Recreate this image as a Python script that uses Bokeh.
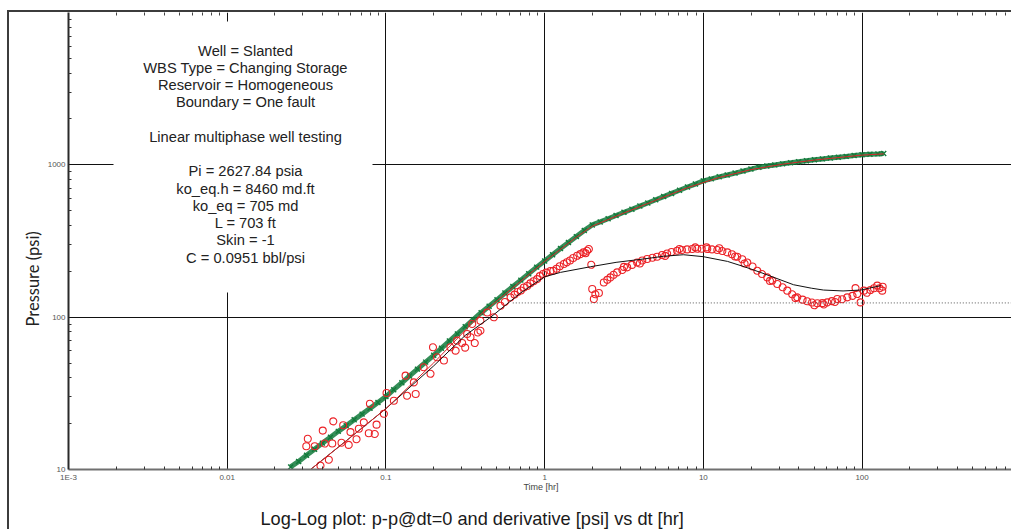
import math
from bokeh.plotting import figure
from bokeh.models import FixedTicker, LogAxis, BoxAnnotation, Label, Title
from bokeh.embed import file_html
from bokeh.resources import INLINE

# ---------------- data ----------------
# pressure change data (green crosses)
PRESS_T = [0.0251, 0.0282, 0.0316, 0.0355, 0.0398, 0.0447, 0.0501, 0.0562, 0.0631, 0.0708,
           0.0794, 0.0891, 0.100, 0.112, 0.126, 0.141, 0.158, 0.178, 0.200, 0.224,
           0.251, 0.282, 0.316, 0.355, 0.398, 0.447, 0.501, 0.562, 0.631, 0.708,
           0.794, 0.891, 1.00, 1.122, 1.259, 1.413, 1.585, 1.778, 1.995, 2.239,
           2.512, 2.818, 3.162, 3.548, 3.981, 4.467, 5.012, 5.623, 6.310, 7.079,
           7.943, 8.913, 10.0, 11.22, 12.59, 14.13, 15.85, 17.78, 19.95, 22.39,
           25.12, 28.18, 31.62, 35.48, 39.81, 44.67, 50.12, 56.23, 63.10, 70.79,
           79.43, 89.13, 100.0, 112.2, 125.9, 137.0]
PRESS_P = [10.4, 11.3, 12.4, 13.6, 14.9, 16.3, 17.8, 19.4, 21.2, 23.1,
           25.2, 27.5, 30.1, 33.4, 37.1, 41.1, 45.6, 50.7, 56.2, 62.6,
           69.7, 77.6, 86.5, 96.2, 107, 118, 130, 144, 159, 175,
           193, 213, 234, 257, 282, 309, 338, 371, 403, 422,
           443, 465, 488, 511, 536, 562, 590, 619, 649, 681,
           715, 748, 785, 809, 834, 857, 883, 910, 938, 965,
           983, 999, 1015, 1031, 1048, 1065, 1080, 1094, 1108, 1122,
           1136, 1150, 1164, 1172, 1180, 1186]

# pressure model (red line)
PMODEL_T = [0.0335, 0.0631, 0.1, 0.2, 0.398, 0.631, 1.0, 1.585, 2.0, 3.162,
            5.012, 7.943, 12.59, 19.95, 31.62, 50.12, 79.43, 100, 137]
PMODEL_P = [10, 17.0, 25.1, 50.1, 105, 156, 232, 335, 396, 483,
            585, 708, 826, 930, 1010, 1075, 1130, 1158, 1180]

# derivative data (red open circles)
DERIV_T = [0.0315, 0.0322, 0.0356, 0.0387, 0.0400, 0.0412, 0.0437, 0.0459, 0.0466, 0.0525,
           0.0538, 0.0583, 0.0598, 0.0653, 0.0675, 0.0726, 0.0780, 0.0793, 0.0851, 0.0873,
           0.0971, 0.1009, 0.1122, 0.133, 0.136, 0.150, 0.154, 0.173, 0.191, 0.198,
           0.210, 0.232, 0.255, 0.275, 0.281, 0.302, 0.316, 0.325, 0.341, 0.350,
           0.363, 0.380, 0.394, 0.394, 0.435, 0.479, 0.527, 0.562, 0.610, 0.646,
           0.676, 0.708, 0.740, 0.776, 0.813, 0.851, 0.897, 0.933, 0.977, 1.023,
           1.089, 1.135, 1.189, 1.245, 1.321, 1.380, 1.445, 1.514, 1.603, 1.679,
           1.758, 1.811, 1.854, 1.901, 1.968,
           1.995, 2.042, 2.089, 2.198, 2.360, 2.483, 2.600, 2.723, 2.864, 3.090,
           3.162, 3.311, 3.548, 3.828, 3.981, 4.121, 4.426, 4.786, 5.117, 5.495,
           5.754, 5.916, 6.310, 6.839, 7.079, 7.328, 7.907, 8.511, 8.913, 9.162,
           9.772, 10.47, 10.59, 11.35, 12.25, 12.59, 13.18, 14.16, 15.14, 15.85,
           16.37, 17.58, 18.20, 18.92, 20.42, 21.88, 23.44, 25.29, 26.30, 27.23,
           29.24, 31.62, 33.81, 36.31, 38.02, 39.08, 42.17, 45.19, 48.42, 50.12,
           52.24, 56.23, 57.54, 60.39, 64.57, 67.61, 69.82, 74.99, 80.72, 87.10,
           90.99, 93.33, 97.95, 102.6, 107.2, 113.0, 118.9, 124.7, 128.8, 134.0,
           134.9]
DERIV_P = [14.2, 15.9, 14.2, 10.6, 18.0, 14.8, 11.6, 14.8, 20.7, 15.0,
           19.5, 14.5, 17.6, 15.8, 18.5, 20.4, 17.3, 27.0, 17.1, 19.7,
           23.2, 31.8, 28.3, 41.3, 30.5, 37.3, 31.3, 46.9, 42.5, 63.4,
           54.5, 51.9, 63.4, 60.3, 70.1, 67.6, 63.1, 77.6, 73.8, 90.2,
           67.6, 79.4, 94.8, 81.5, 107.4, 99.8, 118.9, 125.9, 134.9, 140.6,
           146.2, 149.6, 156.7, 160.3, 166.7, 172.2, 177.8, 186.0, 192.0, 196.0,
           201.0, 201.8, 208.0, 215.8, 223.4, 229.1, 235.5, 244.3, 252.9, 259.4,
           266.1, 263.0, 272.9, 279.9, 220.8,
           153.1, 131.5, 141.3, 144.2, 169.0, 175.8, 182.4, 189.7, 196.8, 204.2,
           213.8, 212.3, 220.3, 228.6, 224.9, 235.5, 241.0, 245.5, 249.5, 255.9,
           252.4, 261.8, 267.9, 272.9, 280.5, 276.1, 278.6, 280.5, 287.1, 281.2,
           281.2, 287.1, 279.9, 278.6, 276.1, 283.1, 271.6, 266.1, 258.8, 250.0,
           249.5, 239.9, 224.9, 228.6, 215.3, 201.8, 191.9, 182.4, 173.0, 173.8,
           165.2, 157.0, 149.3, 141.3, 133.4, 134.9, 130.3, 127.1, 124.7, 119.7,
           123.3, 123.6, 121.1, 125.0, 127.4, 125.9, 131.5, 131.2, 134.9, 138.0,
           155.2, 141.9, 125.0, 149.3, 144.5, 150.7, 154.9, 161.1, 154.9, 149.3,
           158.5]

# derivative model (black line)
DMODEL_T = [0.0335, 0.0631, 0.1, 0.2, 0.316, 0.457, 0.708, 1.0, 1.259, 1.945,
            2.82, 4.2, 5.6, 7.5, 10, 14.19, 18.2, 22.9, 37.0, 47.9,
            57.1, 75.9, 98, 131]
DMODEL_P = [10, 17.0, 25.1, 47.9, 75.9, 100, 144.5, 184, 196.8, 214.3,
            229, 241, 251, 257, 249.5, 232.3, 214, 196.8, 163.3, 155,
            150.7, 148.6, 150.7, 161]

# stabilisation (dotted) line
DOT_T = [0.63, 1000]
DOT_P = [124, 124]

# axis ticks
X_TICKS = [0.001, 0.01, 0.1, 1, 10, 100, 1000]
X_TICK_LABELS = ["1E-3", "0.01", "0.1", "1", "10", "100", "1000"]
Y_TICKS = [10, 100, 1000]
Y_TICK_LABELS = ["10", "100", "1000"]

INFO_LINES = ["Well = Slanted", "WBS Type = Changing Storage", "Reservoir = Homogeneous",
              "Boundary = One fault", "", "Linear multiphase well testing", "",
              "Pi = 2627.84 psia", "ko_eq.h = 8460 md.ft", "ko_eq = 705 md",
              "L = 703 ft", "Skin = -1", "C = 0.0951 bbl/psi"]

TITLE = "Log-Log plot: p-p@dt=0 and derivative [psi] vs dt [hr]"

# ---------------- layout ----------------
X_START, X_END = 1e-3, 900.0
Y_START, Y_END = 10, 1e4
FRAME_L, FRAME_B, FRAME_R, FRAME_T = 68, 469, 1013, 12
DEC_X = (FRAME_R - FRAME_L) / math.log10(X_END / X_START)
DEC_Y = (FRAME_B - FRAME_T) / math.log10(Y_END / Y_START)


def px_to_x(px):
    return X_START * 10 ** ((px - FRAME_L) / DEC_X)


def py_to_y(py):
    return Y_START * 10 ** ((FRAME_B - py) / DEC_Y)


x_minor = [m * 10.0 ** e for e in range(-3, 3) for m in range(2, 10)]
y_minor = [m * 10.0 ** e for e in range(1, 4) for m in range(2, 10)]

p = figure(width=1004, height=519, x_axis_type="log", y_axis_type="log",
           x_range=(X_START, X_END), y_range=(Y_START, Y_END),
           output_backend="svg", toolbar_location=None, title=None,
           min_border_left=59, min_border_right=0, min_border_top=0,
           min_border_bottom=62)
p.margin = (10, 0, 0, 7)
p.styles = {"border-left": "2px solid #3c3c3c", "border-top": "2px solid #3c3c3c"}
p.outline_line_color = None
p.background_fill_color = "white"
p.border_fill_color = "white"

xt = FixedTicker(ticks=X_TICKS, minor_ticks=x_minor)
yt = FixedTicker(ticks=Y_TICKS, minor_ticks=y_minor)

xa = p.xaxis[0]
xa.ticker = xt
xa.major_label_overrides = dict(zip(X_TICKS, X_TICK_LABELS))
xa.axis_line_color = "#707070"
xa.axis_line_width = 2
xa.major_tick_in = 0
xa.major_tick_out = 0
xa.minor_tick_in = 3
xa.minor_tick_out = 0
xa.minor_tick_line_color = "#333333"
xa.major_label_text_font = "Liberation Sans"
xa.major_label_text_font_size = "8px"
xa.major_label_text_color = "#555555"
xa.major_label_standoff = 3
xa.axis_label = "Time [hr]"
xa.axis_label_text_font = "Liberation Sans"
xa.axis_label_text_font_size = "9px"
xa.axis_label_text_font_style = "normal"
xa.axis_label_text_color = "#444444"
xa.axis_label_standoff = -3

ya = p.yaxis[0]
ya.ticker = yt
ya.major_label_overrides = dict(zip(Y_TICKS, Y_TICK_LABELS))
ya.axis_line_color = "#2a2a2a"
ya.axis_line_width = 2
ya.major_tick_in = 0
ya.major_tick_out = 0
ya.minor_tick_in = 3
ya.minor_tick_out = 0
ya.minor_tick_line_color = "#333333"
ya.major_label_text_font = "Liberation Sans"
ya.major_label_text_font_size = "8px"
ya.major_label_text_color = "#555555"
ya.major_label_standoff = 3

top = LogAxis(ticker=FixedTicker(ticks=X_TICKS, minor_ticks=x_minor),
              axis_line_color=None, major_tick_in=0, major_tick_out=0,
              minor_tick_in=3, minor_tick_out=0, minor_tick_line_color="#444444",
              major_label_text_font_size="1px", major_label_text_alpha=0,
              major_label_standoff=0)
p.add_layout(top, "above")

for g in (p.xgrid[0], p.ygrid[0]):
    g.grid_line_color = "#111111"
    g.grid_line_width = 1
    g.grid_line_alpha = 1

# y title as a side title so it can be shifted along the axis
ytitle = Title(text="Pressure (psi)", align="left", offset=FRAME_B - 326,
               text_font="Lato", text_font_size="16.5px", text_font_style="normal",
               text_color="#222222", standoff=3)
p.add_layout(ytitle, "left")

# blank spacer between the time axis and the bottom title
spacer = Title(text=" ", text_font_size="2px", standoff=7)
p.add_layout(spacer, "below")

btitle = Title(text=TITLE, align="left", offset=260 - FRAME_L,
               text_font="Liberation Sans", text_font_size="18.2px",
               text_font_style="normal", text_color="#1a1a1a", standoff=3)
p.add_layout(btitle, "below")

# ---------------- marks ----------------
GREEN = "#127a3b"
p.line(PRESS_T, PRESS_P, line_color=GREEN, line_width=5, line_alpha=0.85)
p.scatter(PRESS_T, PRESS_P, marker="x", size=7, line_color=GREEN, line_width=1.4)
p.scatter(DERIV_T, DERIV_P, marker="circle", size=7, fill_color=None,
          line_color="#ec2227", line_width=1.1)
p.line(DMODEL_T, DMODEL_P, line_color="#111111", line_width=1)
p.line(PMODEL_T, PMODEL_P, line_color="#d8262a", line_width=1)
p.line(DOT_T, DOT_P, line_color="#555555", line_width=1, line_dash="1 2")

# ---------------- text box ----------------
box = BoxAnnotation(left=px_to_x(113), right=px_to_x(372), bottom=py_to_y(292),
                    top=py_to_y(21), fill_color="white", fill_alpha=1.0, line_color=None)
p.add_layout(box)
for i, line in enumerate(INFO_LINES):
    if not line:
        continue
    p.add_layout(Label(x=px_to_x(245), y=py_to_y(50 + 17.25 * i), text=line,
                       text_align="center", text_baseline="middle",
                       text_font="Liberation Sans", text_font_size="14.7px",
                       text_color="#222222"))

open("out.html", "w").write(file_html(p, INLINE))
